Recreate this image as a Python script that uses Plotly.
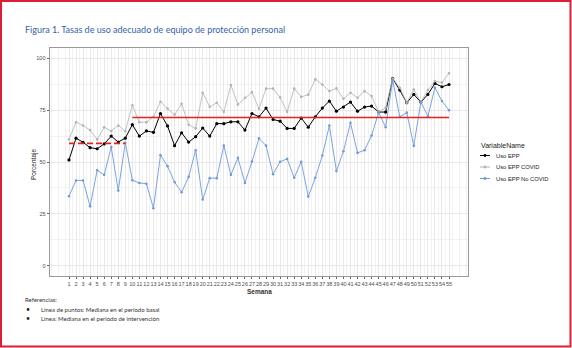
import plotly.graph_objects as go

weeks = list(range(1, 56))

uso_epp = [51, 61.5, 59.5, 56.9, 56.4, 58.7, 62.5, 59.6, 61.5, 68,
           62.5, 65, 64.3, 73.4, 67.4, 57.9, 64.1, 59.6, 62.2, 66.4,
           62.5, 68.5, 68.5, 69.4, 69.4, 65.4, 73.4, 71.8, 76.0, 70.5,
           69.7, 66.2, 66.2, 71.2, 66.8, 71.8, 76.0, 79.4, 74.5, 76.5,
           78.9, 74.5, 76.5, 77.0, 74.1, 74.1, 90.3, 84.7, 78.6, 82.6,
           78.9, 82.6, 87.9, 86.3, 87.4]

uso_epp_covid = [61, 69.2, 67.6, 65.4, 60.9, 66.8, 64.9, 67.6, 64.9, 77.4,
                 69.2, 69.2, 71.8, 79.1, 75.8, 72.8, 78.1, 68, 66.2, 83.4,
                 76.6, 78.6, 74.2, 87.1, 77.8, 81.0, 83.7, 75.7, 85.4, 85.4,
                 81.2, 74.2, 85.4, 81.4, 82.5, 89.9, 87.4, 84.2, 85.5, 80.5,
                 83.4, 81.0, 84.2, 81.8, 74.1, 76.2, 90.3, 85.8, 78.6, 85.0,
                 78.9, 84.7, 89.0, 88.3, 92.8]

uso_epp_no_covid = [33.5, 41.1, 41.1, 28.6, 46, 43.8, 57.2, 36.2, 59.3, 41.2,
                    39.9, 39.5, 27.7, 53.3, 48, 40.3, 35.4, 42.8, 55.7, 31.9,
                    42.2, 42.2, 57.9, 43.8, 52.0, 39.9, 50.2, 61.4, 57.9, 44.1,
                    50.1, 51.5, 42.4, 50.1, 33.3, 42.4, 53.1, 67.6, 45.6, 55.2,
                    68.9, 54.4, 55.7, 62.8, 73.8, 66.8, 89.5, 71.8, 73.8, 57.8,
                    78.9, 72.1, 85.8, 79.4, 75.0]

# Medians
baseline_weeks = [1, 9]
baseline_median = 59
intervention_weeks = [10, 55]
intervention_median = 71.5

series_names = ["Uso EPP", "Uso EPP COVID", "Uso EPP No COVID"]
series_colors = ["#000000", "#b3b3b3", "#6f9ad8"]
series_values = [uso_epp, uso_epp_covid, uso_epp_no_covid]
y_ticks = [0, 25, 50, 75, 100]

title_text = "Figura 1. Tasas de uso adecuado de equipo de protección personal"
ref_title = "Referencias:"
ref_lines = ["Línea de puntos: Mediana en el periodo basal",
             "Línea: Mediana en el periodo de intervención"]

W, H = 572, 348
L, R, T, B = 50, 468, 48, 276
pw, ph = R - L, B - T


def px(x):
    return (x - L) / pw


def py(y):
    return (B - y) / ph


fig = go.Figure()
widths = [1.0, 0.8, 0.9]
msizes = [3.2, 2.6, 2.6]
for name, col, vals, w, ms in zip(series_names, series_colors, series_values, widths, msizes):
    fig.add_trace(go.Scatter(x=weeks, y=vals, mode="lines+markers", name=name,
                             line=dict(color=col, width=w),
                             marker=dict(color=col, size=ms),
                             showlegend=False))

fig.add_trace(go.Scatter(x=baseline_weeks, y=[baseline_median] * 2, mode="lines",
                         line=dict(color="#e8231c", width=1.6, dash="6px,3px"),
                         showlegend=False))
fig.add_trace(go.Scatter(x=intervention_weeks, y=[intervention_median] * 2, mode="lines",
                         line=dict(color="#e8231c", width=1.6),
                         showlegend=False))

tickfont = dict(family="Liberation Sans, Arial", size=5.5, color="#4d4d4d")
fig.update_xaxes(range=[-1.7, 57.7], tickmode="array", tickvals=weeks,
                 ticktext=[str(w) for w in weeks], tickangle=0, tickfont=tickfont,
                 ticks="outside", ticklen=2, tickwidth=0.6, tickcolor="#666",
                 ticklabelstandoff=0,
                 showgrid=True, gridcolor="#e8e8e8", gridwidth=0.6,
                 minor=dict(tickmode="linear", tick0=0.5, dtick=1, showgrid=True,
                            gridcolor="#f2f2f2", gridwidth=0.5),
                 showline=True, linecolor="#9a9a9a", linewidth=0.8, mirror=True,
                 zeroline=False)
fig.update_yaxes(range=[-5, 105], tickmode="array", tickvals=y_ticks,
                 ticktext=[str(v) for v in y_ticks], tickfont=tickfont,
                 ticks="outside", ticklen=2.5, tickwidth=0.6, tickcolor="#666",
                 showgrid=True, gridcolor="#e8e8e8", gridwidth=0.6,
                 minor=dict(tickmode="linear", tick0=12.5, dtick=25, showgrid=True,
                            gridcolor="#f2f2f2", gridwidth=0.5),
                 showline=True, linecolor="#9a9a9a", linewidth=0.8, mirror=True,
                 zeroline=False)

annotations = []
shapes = []
annotations.append(dict(text=title_text, x=px(23), y=py(30), xref="paper", yref="paper",
                        xanchor="left", yanchor="middle", showarrow=False,
                        font=dict(family="Lato", size=9, color="#3463a8")))
annotations.append(dict(text="<b>Semana</b>", x=0.5, y=py(291), xref="paper", yref="paper",
                        xanchor="center", yanchor="middle", showarrow=False,
                        font=dict(family="Liberation Sans, Arial", size=6.5, color="#333")))
annotations.append(dict(text="Porcentaje", x=px(34), y=py(165), xref="paper", yref="paper",
                        xanchor="center", yanchor="middle", showarrow=False, textangle=-90,
                        font=dict(family="Liberation Sans, Arial", size=6.5, color="#222")))

# legend (drawn manually)
annotations.append(dict(text="VariableName", x=px(479), y=py(145.5), xref="paper", yref="paper",
                        xanchor="left", yanchor="middle", showarrow=False,
                        font=dict(family="Liberation Sans, Arial", size=7, color="#222")))
for i, (name, col) in enumerate(zip(series_names, series_colors)):
    yy = 155.5 + i * 11.5
    shapes.append(dict(type="line", xref="paper", yref="paper", x0=px(480), x1=px(490),
                       y0=py(yy), y1=py(yy), line=dict(color=col, width=1)))
    shapes.append(dict(type="circle", xref="paper", yref="paper", x0=px(483.6), x1=px(486.4),
                       y0=py(yy + 1.4), y1=py(yy - 1.4), fillcolor=col, line=dict(width=0)))
    annotations.append(dict(text=name, x=px(494), y=py(yy), xref="paper", yref="paper",
                            xanchor="left", yanchor="middle", showarrow=False,
                            font=dict(family="Liberation Sans, Arial", size=5.8, color="#222")))

# references
annotations.append(dict(text=ref_title, x=px(23), y=py(299), xref="paper", yref="paper",
                        xanchor="left", yanchor="middle", showarrow=False,
                        font=dict(family="Lato", size=6, color="#333")))
for i, t in enumerate(ref_lines):
    yy = 309 + i * 9
    annotations.append(dict(text="•", x=px(24), y=py(yy), xref="paper", yref="paper",
                            xanchor="left", yanchor="middle", showarrow=False,
                            font=dict(family="Lato", size=7, color="#222")))
    annotations.append(dict(text=t, x=px(39), y=py(yy), xref="paper", yref="paper",
                            xanchor="left", yanchor="middle", showarrow=False,
                            font=dict(family="Lato", size=6, color="#333")))

# red frame
shapes.append(dict(type="rect", xref="paper", yref="paper", x0=px(1), x1=px(570.5),
                   y0=py(346.5), y1=py(1), line=dict(color="#dc1f35", width=2), layer="above"))

fig.update_layout(width=W, height=H, margin=dict(l=L, r=W - R, t=T, b=H - B),
                  paper_bgcolor="white", plot_bgcolor="white", showlegend=False,
                  annotations=annotations, shapes=shapes)

fig.write_html("out.html")
